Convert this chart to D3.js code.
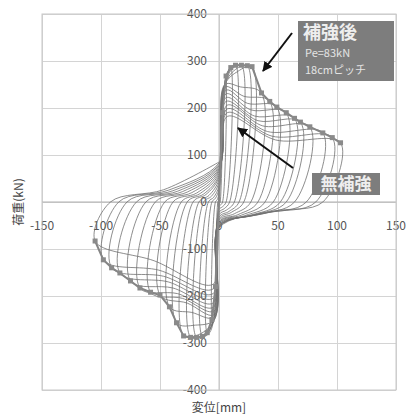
<!DOCTYPE html>
<html>
<head>
<meta charset="utf-8">
<script src="https://cdn.jsdelivr.net/npm/d3@7"></script>
<style>
  body { margin: 0; background: #fff; }
  text { font-family: "Noto Sans CJK JP", "Noto Sans", sans-serif; }
</style>
</head>
<body>
<div id="chart"></div>
<script>
// tick values
const xTicks = [-150, -100, -50, 0, 50, 100, 150];
const yTicks = [-400, -300, -200, -100, 0, 100, 200, 300, 400];

// positive half of each cycle (mm, kN)
const ampPos    = [3, 6, 10, 14, 19, 24, 28, 36, 43, 49, 57, 64, 69, 77, 88, 96, 103];
const peakPos   = [190, 268, 286, 291, 291, 290, 288, 232, 214, 202, 190, 178, 170, 160, 147, 137, 126];
const posStartF = [0, 12, 20, 28, 35, 42, 48, 53, 57, 61, 65, 68, 71, 74, 77, 80, 83, 85];
const posRiseD  = [1, 2, 3, 3, 4, 4, 5, 5, 5, 6, 6, 6, 6, 7, 7, 7, 7];
const posRiseF  = [90, 150, 190, 215, 235, 245, 250, 250, 245, 238, 230, 222, 214, 206, 198, 190, 182];
const posMidD   = [2, 4, 6, 8, 11, 14, 16, 18, 21, 24, 27, 30, 33, 37, 41, 45, 48];
const posMidF   = [150, 230, 265, 280, 283, 282, 278, 245, 225, 210, 196, 183, 173, 162, 150, 140, 132];
const posUnloadD = [1, 3, 6, 9, 13, 17, 21, 27, 33, 39, 46, 52, 57, 64, 74, 82, 88];
const posRetD   = [0.5, 1.5, 3, 4.5, 6.5, 8.5, 10.5, 13, 16, 19, 22, 26, 29, 32, 37, 41, 45];
const posRetF   = [-3, -6, -10, -14, -17, -20, -22, -25, -27, -28, -29, -29, -28, -27, -25, -23, -20];

// negative half of each cycle
const negStartF = [-5, -10, -16, -22, -27, -32, -36, -39, -42, -44, -46, -48, -50, -51, -52, -53, -55];
const ampNeg    = [-3, -6, -10, -14, -19, -24, -30, -36, -42, -50, -58, -67, -75, -84, -91, -98, -105];
const peakNeg   = [-180, -250, -278, -286, -288, -288, -285, -257, -223, -198, -192, -183, -168, -151, -140, -123, -83];
const negRiseD  = [-1, -2, -2, -3, -3, -3, -4, -4, -4, -4, -4, -5, -5, -5, -5, -5, -5];
const negRiseF  = [-100, -170, -200, -220, -235, -245, -250, -250, -245, -240, -232, -224, -215, -205, -195, -185, -175];
const negMidD   = [-2, -4, -6, -8, -11, -14, -17, -20, -23, -27, -31, -35, -39, -43, -47, -51, -55];
const negMidF   = [-150, -225, -262, -278, -283, -284, -282, -262, -235, -215, -205, -195, -183, -170, -158, -145, -125];
const negUnloadD = [-1, -3, -6, -9, -13, -17, -22, -27, -32, -39, -46, -54, -62, -70, -78, -85, -92];
const negRetD   = [-0.5, -1.5, -3, -4.5, -6.5, -8.5, -11, -13, -16, -19, -23, -27, -31, -35, -39, -43, -47];
const negRetF   = [3, 5, 8, 10, 12, 14, 16, 17, 18, 19, 20, 21, 22, 23, 24, 25, 26];

const width = 406, height = 418;
const plot = {left: 42, right: 396, top: 14, bottom: 390};

const svg = d3.select("#chart")
  .append("svg")
  .attr("width", width)
  .attr("height", height);

const x = d3.scaleLinear().domain([-150, 150]).range([plot.left, plot.right]);
const y = d3.scaleLinear().domain([-400, 400]).range([plot.bottom, plot.top]);

// gridlines
svg.append("g")
  .attr("transform", `translate(0,${plot.top})`)
  .call(d3.axisBottom(x).tickValues(xTicks).tickSize(plot.bottom - plot.top).tickFormat(""))
  .call(g => g.select(".domain").remove())
  .selectAll("line").attr("stroke", "#d4d4d4");

svg.append("g")
  .attr("transform", `translate(${plot.left},0)`)
  .call(d3.axisRight(y).tickValues(yTicks).tickSize(plot.right - plot.left).tickFormat(""))
  .call(g => g.select(".domain").remove())
  .selectAll("line").attr("stroke", "#d4d4d4");

// axes crossing at zero
svg.append("line")
  .attr("x1", plot.left).attr("x2", plot.right)
  .attr("y1", y(0)).attr("y2", y(0))
  .attr("stroke", "#b0b0b0");
svg.append("line")
  .attr("x1", x(0)).attr("x2", x(0))
  .attr("y1", plot.top).attr("y2", plot.bottom)
  .attr("stroke", "#c4c4c4");

// tick labels
svg.append("g")
  .selectAll("text")
  .data(yTicks)
  .join("text")
  .attr("x", x(0) - 12)
  .attr("y", d => y(d))
  .attr("dy", "0.35em")
  .attr("text-anchor", "end")
  .attr("font-size", 12)
  .attr("fill", "#555")
  .text(d => d);

svg.append("g")
  .selectAll("text")
  .data(xTicks)
  .join("text")
  .attr("x", d => x(d))
  .attr("y", y(0) + 24)
  .attr("dy", "0.35em")
  .attr("text-anchor", "middle")
  .attr("font-size", 12)
  .attr("fill", "#555")
  .text(d => d);

// hysteresis path built from the cycle arrays
const pts = [[0, posStartF[0]]];
ampPos.forEach((a, i) => {
  pts.push([posRiseD[i], posRiseF[i]], [posMidD[i], posMidF[i]], [a, peakPos[i]],
    [posUnloadD[i], 0], [posRetD[i], posRetF[i]], [0, negStartF[i]],
    [negRiseD[i], negRiseF[i]], [negMidD[i], negMidF[i]], [ampNeg[i], peakNeg[i]],
    [negUnloadD[i], 0], [negRetD[i], negRetF[i]], [0, posStartF[i + 1]]);
});

const line = d3.line()
  .x(d => x(d[0]))
  .y(d => y(d[1]))
  .curve(d3.curveCatmullRom.alpha(0.5));

svg.append("path")
  .datum(pts)
  .attr("fill", "none")
  .attr("stroke", "#707070")
  .attr("stroke-width", 0.8)
  .attr("d", line);

// envelope with markers
const envPos = [[0, 0]].concat(ampPos.map((a, i) => [a, peakPos[i]]));
const envNeg = [[0, 0]].concat(ampNeg.map((a, i) => [a, peakNeg[i]]));
const envLine = d3.line().x(d => x(d[0])).y(d => y(d[1]));

[envPos, envNeg].forEach(env => {
  svg.append("path")
    .datum(env)
    .attr("fill", "none")
    .attr("stroke", "#858585")
    .attr("stroke-width", 2)
    .attr("d", envLine);
  svg.append("g")
    .selectAll("rect")
    .data(env.slice(1))
    .join("rect")
    .attr("x", d => x(d[0]) - 2.5)
    .attr("y", d => y(d[1]) - 2.5)
    .attr("width", 5)
    .attr("height", 5)
    .attr("fill", "#8a8a8a");
});

// plot frame
svg.append("rect")
  .attr("x", plot.left).attr("y", plot.top)
  .attr("width", plot.right - plot.left)
  .attr("height", plot.bottom - plot.top)
  .attr("fill", "none")
  .attr("stroke", "#c8c8c8");

// axis titles
svg.append("text")
  .attr("transform", `translate(19,${y(0)}) rotate(-90)`)
  .attr("text-anchor", "middle")
  .attr("dy", "0.35em")
  .attr("font-size", 12)
  .attr("fill", "#444")
  .text("荷重(kN)");

svg.append("text")
  .attr("x", x(0))
  .attr("y", 408)
  .attr("text-anchor", "middle")
  .attr("dy", "0.35em")
  .attr("font-size", 12)
  .attr("fill", "#444")
  .text("変位[mm]");

// arrows
const defs = svg.append("defs");
defs.append("marker")
  .attr("id", "head")
  .attr("viewBox", "0 0 10 10")
  .attr("refX", 9).attr("refY", 5)
  .attr("markerWidth", 5).attr("markerHeight", 5)
  .attr("orient", "auto")
  .append("path")
  .attr("d", "M0,0L10,5L0,10z")
  .attr("fill", "#111");

[[292, 33, 263, 71], [293, 168, 238, 128]].forEach(a => {
  svg.append("line")
    .attr("x1", a[0]).attr("y1", a[1])
    .attr("x2", a[2]).attr("y2", a[3])
    .attr("stroke", "#111")
    .attr("stroke-width", 2)
    .attr("marker-end", "url(#head)");
});

// annotation boxes
svg.append("rect")
  .attr("x", 298).attr("y", 21).attr("width", 96).attr("height", 60)
  .attr("fill", "#7d7d7d");
svg.append("text")
  .attr("x", 303).attr("y", 33).attr("dy", "0.35em")
  .attr("font-size", 18).attr("font-weight", "bold").attr("fill", "#eee")
  .text("補強後");
svg.append("text")
  .attr("x", 305).attr("y", 53).attr("dy", "0.35em")
  .attr("font-size", 11).attr("fill", "#e4e4e4")
  .text("Pe=83kN");
svg.append("text")
  .attr("x", 305).attr("y", 70).attr("dy", "0.35em")
  .attr("font-size", 11).attr("fill", "#e4e4e4")
  .text("18cmピッチ");

svg.append("rect")
  .attr("x", 312).attr("y", 173).attr("width", 68).attr("height", 22)
  .attr("fill", "#7d7d7d");
svg.append("text")
  .attr("x", 346).attr("y", 184).attr("dy", "0.35em")
  .attr("text-anchor", "middle")
  .attr("font-size", 17).attr("font-weight", "bold").attr("fill", "#eee")
  .text("無補強");
</script>
</body>
</html>
